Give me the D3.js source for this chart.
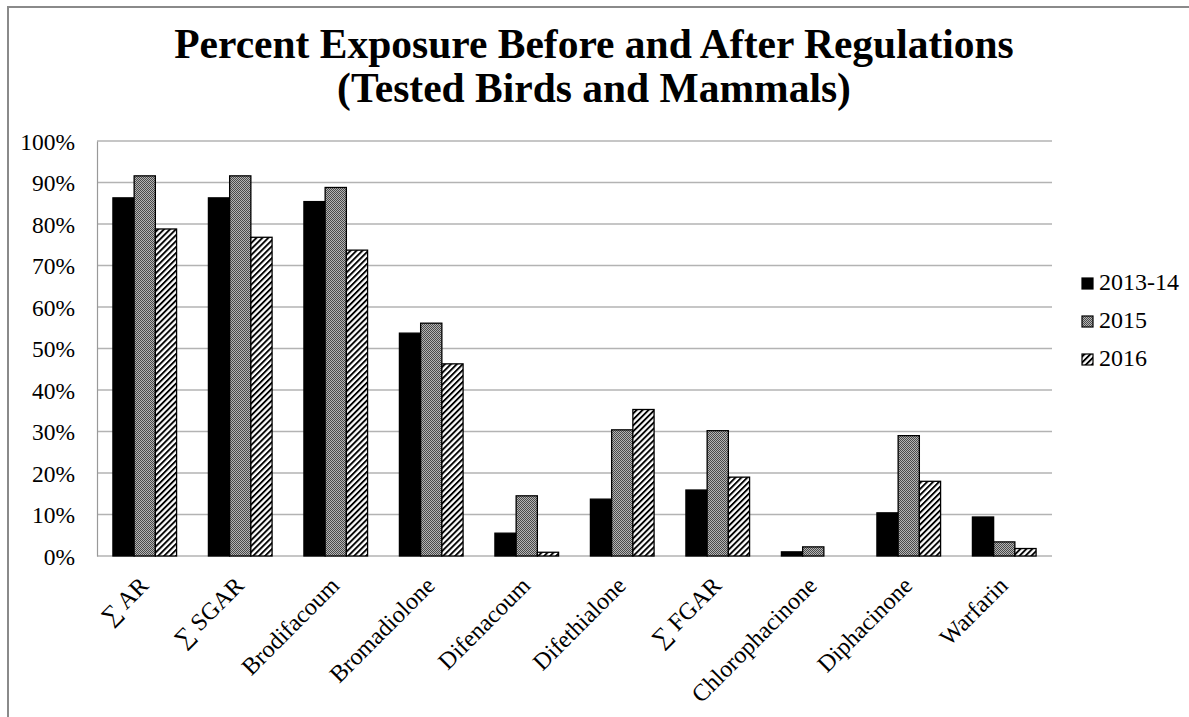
<!DOCTYPE html>
<html>
<head>
<meta charset="utf-8">
<script src="https://cdn.jsdelivr.net/npm/d3@7"></script>
<style>
  html, body { margin: 0; padding: 0; background: #fff; }
  svg { display: block; }
  text { font-family: "Liberation Serif", "Times New Roman", serif; fill: #000; }
</style>
</head>
<body>
<svg id="chart" width="1189" height="717"></svg>
<script>
// Exposure percentages by compound and period
const categories = ["\u2211 AR", "\u2211 SGAR", "Brodifacoum", "Bromadiolone", "Difenacoum",
  "Difethialone", "\u2211 FGAR", "Chlorophacinone", "Diphacinone", "Warfarin"];
const seriesNames = ["2013-14", "2015", "2016"];
const values2013 = [86.3, 86.3, 85.4, 53.7, 5.5, 13.7, 15.9, 1.0, 10.4, 9.4];
const values2015 = [91.6, 91.6, 88.8, 56.1, 14.5, 30.4, 30.2, 2.2, 29.0, 3.4];
const values2016 = [78.8, 76.8, 73.7, 46.3, 0.9, 35.3, 19.0, 0.0, 18.0, 1.8];
const yTicks = [0, 10, 20, 30, 40, 50, 60, 70, 80, 90, 100];
const titleLines = ["Percent Exposure Before and After Regulations", "(Tested Birds and Mammals)"];

const series = [values2013, values2015, values2016];
const fills = ["#000", "url(#dots)", "url(#hatch)"];

const svg = d3.select("#chart");

// Fill patterns: fine dither for 2015, diagonal hatch for 2016
const defs = svg.append("defs");
const dots = defs.append("pattern").attr("id", "dots")
  .attr("patternUnits", "userSpaceOnUse").attr("width", 2).attr("height", 2);
dots.append("rect").attr("width", 2).attr("height", 2).attr("fill", "#b4b4b4");
dots.append("rect").attr("x", 0).attr("y", 0).attr("width", 1).attr("height", 1).attr("fill", "#4a4a4a");
dots.append("rect").attr("x", 1).attr("y", 1).attr("width", 1).attr("height", 1).attr("fill", "#4a4a4a");

const hatch = defs.append("pattern").attr("id", "hatch")
  .attr("patternUnits", "userSpaceOnUse").attr("width", 4.2).attr("height", 4.2)
  .attr("patternTransform", "rotate(45)");
hatch.append("rect").attr("width", 4.2).attr("height", 4.2).attr("fill", "#fff");
hatch.append("rect").attr("x", 0).attr("width", 1.9).attr("height", 4.2).attr("fill", "#000");

// Outer frame
svg.append("rect").attr("x", 8).attr("y", 7).attr("width", 1300).attr("height", 800)
  .attr("fill", "none").attr("stroke", "#8a8a8a").attr("stroke-width", 2);

// Title
const title = svg.append("text").attr("text-anchor", "middle")
  .style("font-weight", "bold").style("font-size", "41.5px");
titleLines.forEach((t, i) => {
  title.append("tspan").attr("x", 594).attr("y", 58 + i * 44).text(t);
});

const plot = { left: 97, right: 1052, top: 141, bottom: 556 };

const x = d3.scaleBand().domain(categories).range([plot.left, plot.right]).padding(0);
const y = d3.scaleLinear().domain([0, 100]).range([plot.bottom, plot.top]);
const barW = x.bandwidth() / 4.5;
const groupOffset = (x.bandwidth() - 3 * barW) / 2;

// Horizontal gridlines
svg.append("g").selectAll("line").data(yTicks).join("line")
  .attr("x1", plot.left).attr("x2", plot.right)
  .attr("y1", d => y(d)).attr("y2", d => y(d))
  .attr("stroke", "#b3b3b3").attr("stroke-width", 1.5);

// Y axis
const yAxis = d3.axisLeft(y).tickValues(yTicks).tickFormat(d => d + "%").tickSize(0).tickPadding(22);
const yg = svg.append("g").attr("transform", `translate(${plot.left},0)`).call(yAxis);
yg.select(".domain").attr("stroke", "#999").attr("stroke-width", 1.2);
yg.selectAll("text").style("font-size", "23.5px")
  .style("font-family", "'Liberation Serif', serif").attr("dy", "0.34em");

// Bars
series.forEach((vals, s) => {
  svg.append("g").selectAll("rect").data(categories).join("rect")
    .filter((d, i) => vals[i] > 0)
    .attr("x", d => x(d) + groupOffset + s * barW)
    .attr("y", d => y(vals[categories.indexOf(d)]))
    .attr("width", barW)
    .attr("height", d => y(0) - y(vals[categories.indexOf(d)]))
    .attr("fill", fills[s])
    .attr("stroke", "#000").attr("stroke-width", 1.3);
});

// Category labels, rotated
svg.append("g").selectAll("text").data(categories).join("text")
  .attr("text-anchor", "end")
  .attr("transform", d => `translate(${x(d) + x.bandwidth() / 2 + 5},587) rotate(-45)`)
  .style("font-size", "24px")
  .text(d => d);

// Legend
const legend = svg.append("g");
seriesNames.forEach((name, i) => {
  const ly = 278 + i * 38;
  legend.append("rect").attr("x", 1082).attr("y", ly).attr("width", 11).attr("height", 11)
    .attr("fill", fills[i]).attr("stroke", "#000").attr("stroke-width", 1.2);
  legend.append("text").attr("x", 1099).attr("y", ly + 12)
    .style("font-size", "24px").text(name);
});
</script>
</body>
</html>
